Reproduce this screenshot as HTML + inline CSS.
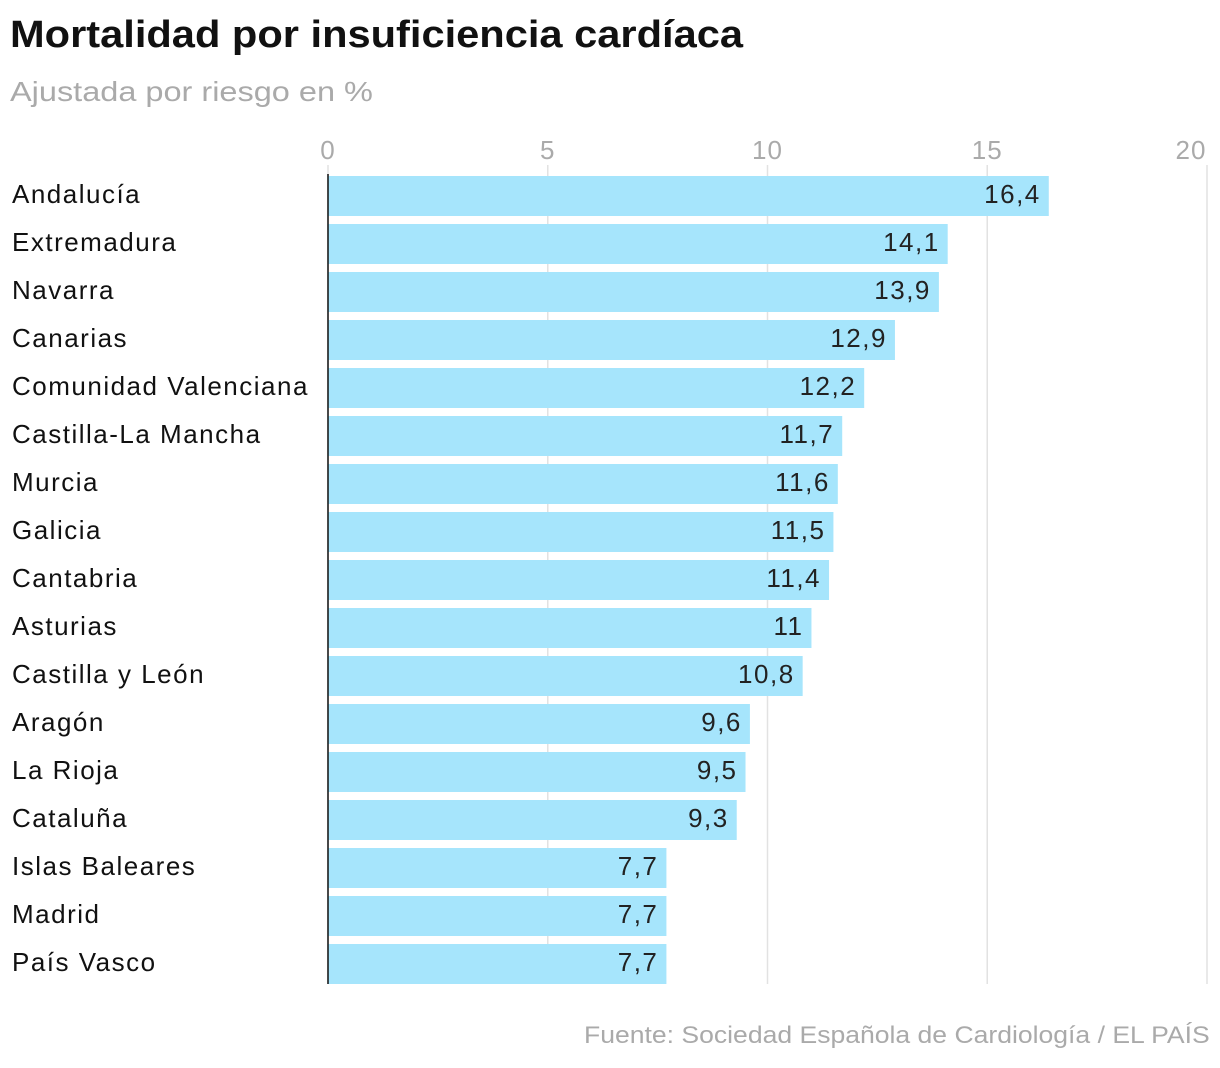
<!DOCTYPE html>
<html><head><meta charset="utf-8"><style>
html,body{margin:0;padding:0;background:#fff;width:1220px;height:1068px;overflow:hidden}
body{font-family:"Liberation Sans",sans-serif;position:relative}
#title{position:absolute;left:10px;top:14px;font-size:38px;font-weight:bold;color:#111;transform:scaleX(1.095);transform-origin:left top;white-space:nowrap}
#subtitle{position:absolute;left:10px;top:76px;font-size:28px;color:#aaa;transform:scaleX(1.16);transform-origin:left top;white-space:nowrap}
#source{position:absolute;right:10px;top:1022px;font-size:24px;color:#aaa;transform:scaleX(1.106);transform-origin:right top;white-space:nowrap}
svg{position:absolute;left:0;top:0}
</style></head><body>
<div id="title">Mortalidad por insuficiencia cardíaca</div>
<div id="subtitle">Ajustada por riesgo en %</div>
<div id="source">Fuente: Sociedad Española de Cardiología / EL PAÍS</div>
<svg id="chart" width="1220" height="1068"></svg>
<script>
const categories=["Andalucía","Extremadura","Navarra","Canarias","Comunidad Valenciana","Castilla-La Mancha","Murcia","Galicia","Cantabria","Asturias","Castilla y León","Aragón","La Rioja","Cataluña","Islas Baleares","Madrid","País Vasco"];
const values=[16.4,14.1,13.9,12.9,12.2,11.7,11.6,11.5,11.4,11,10.8,9.6,9.5,9.3,7.7,7.7,7.7];
const ticks=[0,5,10,15,20];
const NS="http://www.w3.org/2000/svg";
const svg=document.getElementById('chart');
const x0=328,x1=1207,xmax=20;
const x=v=>x0+(x1-x0)*v/xmax;
const top0=176,pitch=48,bh=40;
const y=i=>top0+i*pitch;
function mk(t,a,txt){const e=document.createElementNS(NS,t);for(const k in a)e.setAttribute(k,a[k]);if(txt!==undefined)e.textContent=txt;svg.appendChild(e);return e;}
ticks.forEach(t=>{
 const g=mk('line',{x1:x(t),x2:x(t),y1:165,y2:y(categories.length-1)+bh,stroke:'#e2e2e2','stroke-width':1.5});
 
 
 const l=mk('text',{x:x(t)+(t===20?-16:0),y:159,'font-size':26,fill:'#aaa','text-anchor':'middle','letter-spacing':1,'font-family':'Liberation Sans, sans-serif'},String(t));
 
 
});
categories.forEach((c,i)=>{
 const r=mk('rect',{x:x0,y:y(i),width:x(values[i])-x0,height:bh,fill:'#a6e5fc'});
 
 
 const lab=mk('text',{x:12,y:y(i)+bh/2+7,'font-size':26,fill:'#111','letter-spacing':1.5,'font-family':'Liberation Sans, sans-serif'},c);
 
 
 const v=mk('text',{x:x(values[i])-8,y:y(i)+bh/2+7,'font-size':26,fill:'#222','text-anchor':'end','letter-spacing':1.5,'font-family':'Liberation Sans, sans-serif'},String(values[i]).replace('.',','));
 
 
});
const ax=mk('line',{x1:x0,x2:x0,y1:top0-2,y2:y(categories.length-1)+bh,stroke:'#111','stroke-width':1.5});


</script>
</body></html>
